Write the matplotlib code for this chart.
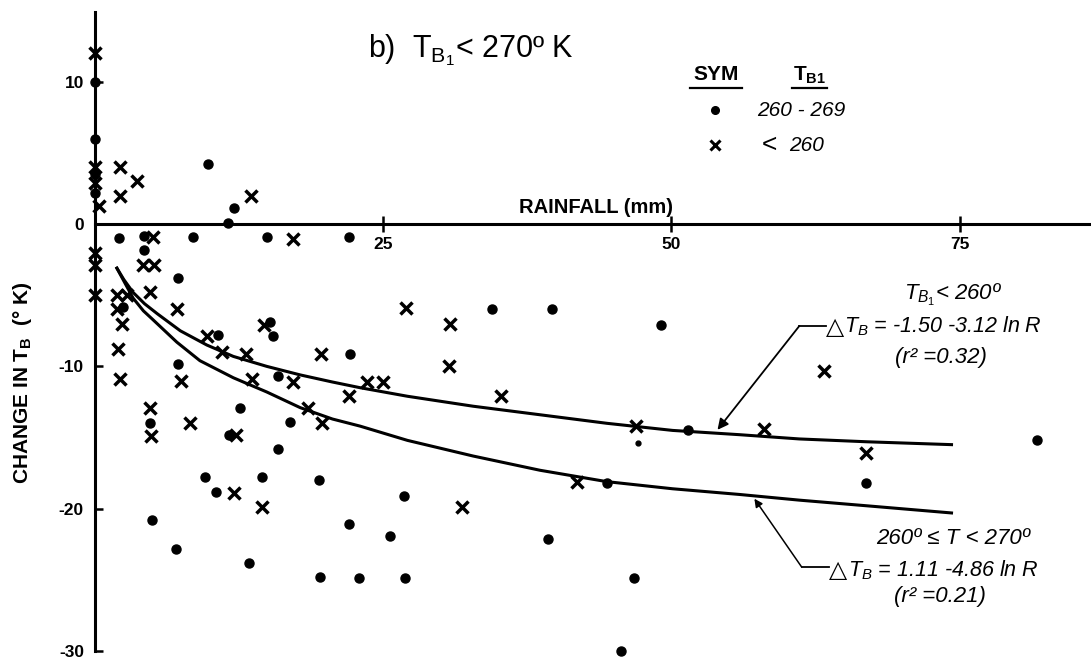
import matplotlib
matplotlib.use("Agg")
import matplotlib.pyplot as plt

plt.rcParams["font.family"] = ["Liberation Sans", "DejaVu Sans"]
plt.rcParams["mathtext.fontset"] = "custom"
plt.rcParams["mathtext.rm"] = "Liberation Sans"
plt.rcParams["mathtext.it"] = "Liberation Sans:italic"
plt.rcParams["mathtext.bf"] = "Liberation Sans:bold"

# rainfall (mm) vs change in T_B (K)
# dots: T_B1 260-269
dot_rain = [0, 0, 0, 0, 9.8, 12.1, 11.5,
            2.1, 4.25, 8.5, 14.9, 22.0, 4.25, 7.2, 2.4,
            7.2, 10.7, 15.2, 15.4, 22.1, 15.9, 4.8, 12.6, 16.9, 11.6,
            15.9, 9.5, 14.5, 19.4, 10.5, 4.95, 22.0, 7.0, 13.4, 19.5, 22.9,
            34.4, 39.6, 49.1, 51.4, 44.4, 26.8, 25.6, 39.3, 26.9, 46.8,
            45.6, 66.9, 81.7]
dot_dtb = [10.0, 6.0, 3.5, 2.2, 4.2, 1.1, 0.1,
           -1.0, -0.85, -0.9, -0.9, -0.9, -1.8, -3.8, -5.8,
           -9.8, -7.8, -6.9, -7.9, -9.1, -10.7, -14.0, -12.9, -13.9, -14.8,
           -15.8, -17.8, -17.8, -18.0, -18.8, -20.8, -21.1, -22.8, -23.8, -24.8, -24.9,
           -6.0, -6.0, -7.1, -14.5, -18.2, -19.1, -21.9, -22.1, -24.9, -24.9,
           -30.0, -18.2, -15.2]
small_dot_rain = [47.1]
small_dot_dtb = [-15.4]

# crosses: T_B1 < 260
x_rain = [0, 0, 0, 0.35, 2.2, 3.6, 2.2, 13.5,
          5.0, 17.2, 0, 0, 0, 4.2, 5.1, 4.8, 1.9, 2.8, 1.9, 2.3, 7.1,
          2.0, 2.2, 7.5, 9.7, 11.0, 13.1, 14.7, 19.6, 13.6, 17.2, 22.0,
          4.8, 8.2, 18.5, 19.7, 4.9, 12.2, 12.1, 14.5,
          27.0, 30.8, 30.7, 23.6, 25.0, 35.2, 46.9, 41.8, 31.8,
          63.2, 58.0, 66.9]
x_dtb = [12.0, 4.0, 2.9, 1.3, 4.0, 3.0, 2.0, 2.0,
         -0.9, -1.05, -2.0, -2.9, -5.0, -2.9, -2.9, -4.8, -5.0, -5.0, -6.0, -7.0, -6.0,
         -8.8, -10.9, -11.0, -7.9, -9.0, -9.1, -7.1, -9.1, -10.9, -11.1, -12.1,
         -12.9, -14.0, -12.9, -14.0, -14.9, -14.8, -18.9, -19.9,
         -5.9, -7.0, -10.0, -11.1, -11.1, -12.1, -14.2, -18.1, -19.9,
         -10.3, -14.4, -16.1]

# fitted curves as drawn
fit_lt260_rain = [1.9, 2.5, 3.3, 4.3, 5.4, 7.4, 9.7, 12.0, 14.9, 17.8, 20.6, 23.0,
                  27.1, 32.8, 38.6, 44.4, 50.1, 55.9, 61.1, 67.0, 74.3]
fit_lt260_dtb = [-3.1, -3.9, -4.8, -5.6, -6.3, -7.5, -8.5, -9.3, -10.0, -10.6, -11.1, -11.5,
                 -12.1, -12.8, -13.4, -14.0, -14.5, -14.8, -15.1, -15.3, -15.5]
fit_260_270_rain = [1.9, 2.5, 3.3, 4.2, 5.0, 7.1, 9.1, 12.0, 14.9, 17.8, 20.6, 23.0,
                    27.1, 32.8, 38.6, 44.4, 50.1, 55.9, 61.1, 67.0, 74.3]
fit_260_270_dtb = [-3.1, -4.0, -5.2, -6.1, -6.7, -8.3, -9.6, -10.8, -11.8, -12.9, -13.7, -14.2,
                   -15.2, -16.3, -17.3, -18.1, -18.6, -19.0, -19.4, -19.8, -20.3]

y_ticks = [10, 0, -10, -20, -30]
y_ticklabels = ["10", "0", "-10", "-20", "-30"]
x_ticks = [25, 50, 75]
x_ticklabels = ["25", "50", "75"]

fig = plt.figure(figsize=(10.91, 6.6), dpi=100)
ax = fig.add_axes([95 / 1091, 9 / 660, 996 / 1091, 639 / 660])
ax.set_xlim(0, 86.4)
ax.set_ylim(-30, 14.9)

for side in ("top", "right"):
    ax.spines[side].set_visible(False)
ax.spines["left"].set_position(("data", 0))
ax.spines["bottom"].set_position(("data", 0))
for side in ("left", "bottom"):
    ax.spines[side].set_linewidth(2.2)

ax.set_yticks(y_ticks)
ax.set_yticklabels(y_ticklabels, fontweight="bold")
ax.set_xticks(x_ticks)
ax.set_xticklabels(x_ticklabels, fontweight="bold")
ax.tick_params(axis="y", direction="in", length=6, width=1.8, pad=8, labelsize=12.5)
ax.tick_params(axis="x", direction="inout", length=12, width=1.8, pad=3, labelsize=12.5)

ax.plot(fit_lt260_rain, fit_lt260_dtb, color="black", lw=2.2)
ax.plot(fit_260_270_rain, fit_260_270_dtb, color="black", lw=2.2)

ax.plot(dot_rain, dot_dtb, "o", color="black", ms=6.5, clip_on=False)
ax.plot(small_dot_rain, small_dot_dtb, "o", color="black", ms=3.5, clip_on=False)
ax.plot(x_rain, x_dtb, "x", color="black", ms=8.5, mew=2.5, clip_on=False)

ax.text(23.7, 11.7, r"b)  $\mathrm{T_{B_{1}}}$< 270º K", fontsize=22, va="baseline")
ax.text(43.5, 0.77, "RAINFALL (mm)", fontsize=14.5, fontweight="bold",
        ha="center", va="baseline")
fig.text(0.021, 0.42, r"CHANGE IN $\mathbf{T_B}$  (° K)", rotation=90, fontsize=15,
         fontweight="bold", ha="center", va="center")

# legend
ax.text(53.9, 10.1, "SYM", fontsize=15, fontweight="bold", ha="center", va="baseline")
ax.text(62.0, 10.1, r"$\mathbf{T_{B1}}$", fontsize=15, ha="center", va="baseline")
ax.plot([51.6, 56.1], [9.55, 9.55], color="black", lw=1.6)
ax.plot([60.5, 63.5], [9.55, 9.55], color="black", lw=1.6)
ax.plot([53.8], [8.0], "o", color="black", ms=5.5)
ax.text(57.4, 8.0, "260 - 269", fontsize=15, style="italic", va="center")
ax.plot([53.8], [5.54], "x", color="black", ms=6.5, mew=2.2)
ax.text(57.8, 5.54, "<", fontsize=19, va="center")
ax.text(60.2, 5.54, "260", fontsize=15, style="italic", va="center")

# equation labels with leaders
ax.text(74.4, -5.0, r"$T_{B_1}$< 260º", fontsize=16, style="italic", ha="center", va="center")
ax.text(63.4, -7.2, "△", fontsize=17, family="DejaVu Sans", va="center")
ax.text(65.0, -7.2, r"$T_B$ = -1.50 -3.12 ln R", fontsize=15.5, style="italic", va="center")
ax.text(73.4, -9.4, "(r² =0.32)", fontsize=16, style="italic", ha="center", va="center")
ax.plot([61.1, 63.4], [-7.16, -7.16], color="black", lw=1.3)
ax.annotate("", xy=(54.0, -14.46), xytext=(61.1, -7.16),
            arrowprops=dict(arrowstyle="-|>", color="black", lw=1.3,
                            mutation_scale=16, shrinkA=0, shrinkB=0))

ax.text(74.4, -22.1, "260º ≤ T < 270º", fontsize=16, style="italic", ha="center", va="center")
ax.text(63.7, -24.3, "△", fontsize=17, family="DejaVu Sans", va="center")
ax.text(65.3, -24.3, r"$T_B$ = 1.11 -4.86 ln R", fontsize=15.5, style="italic", va="center")
ax.text(73.3, -26.2, "(r² =0.21)", fontsize=16, style="italic", ha="center", va="center")
ax.plot([61.3, 63.7], [-24.1, -24.1], color="black", lw=1.3)
ax.annotate("", xy=(57.2, -19.3), xytext=(61.3, -24.1),
            arrowprops=dict(arrowstyle="-|>", color="black", lw=1.1,
                            mutation_scale=12, shrinkA=0, shrinkB=0))

fig.savefig("out.png", dpi=100)
